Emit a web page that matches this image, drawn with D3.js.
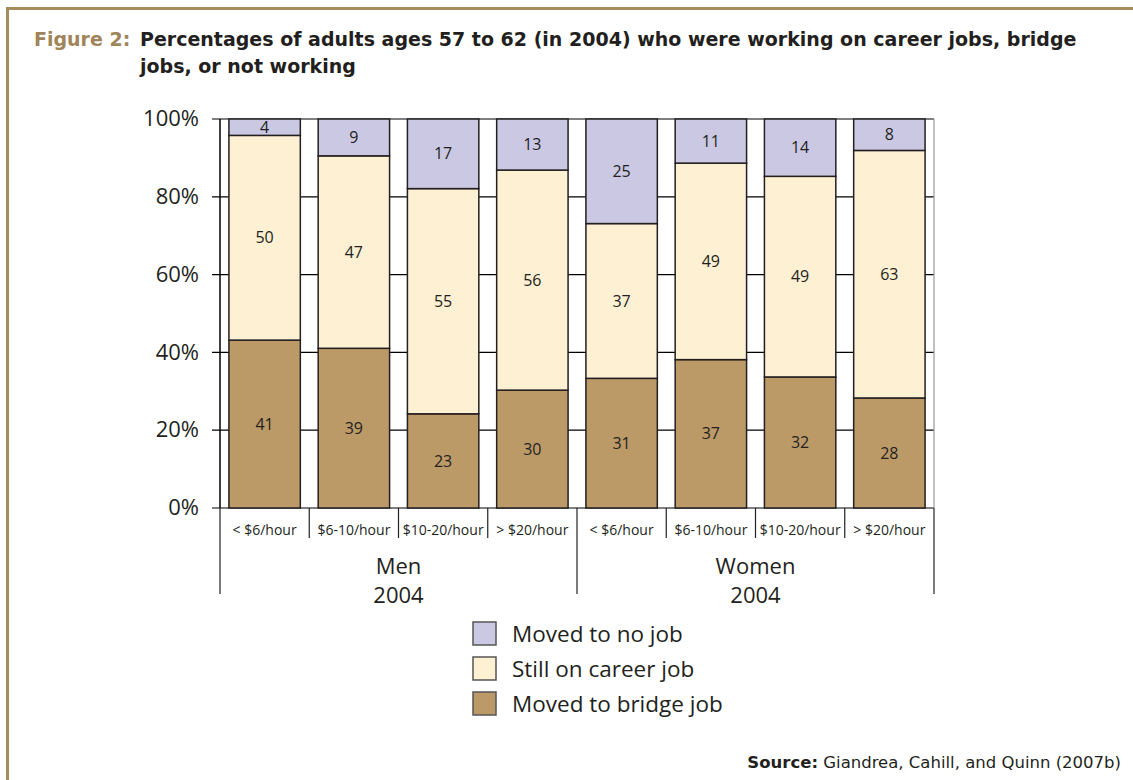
<!DOCTYPE html>
<html>
<head>
<meta charset="utf-8">
<script src="https://cdn.jsdelivr.net/npm/d3@7"></script>
<style>
  body { margin: 0; background: #fff; }
  svg { display: block; }
</style>
</head>
<body>
<div id="chart"></div>
<script>
// Categories and series values (as printed on the bars)
const groups = ['Men', 'Women'];
const groupYear = '2004';
const wages = ['< $6/hour', '$6-10/hour', '$10-20/hour', '> $20/hour'];
const bridgeJob = [41, 39, 23, 30, 31, 37, 32, 28];
const careerJob = [50, 47, 55, 56, 37, 49, 49, 63];
const noJob = [4, 9, 17, 13, 25, 11, 14, 8];
const yTicks = [0, 20, 40, 60, 80, 100];
const seriesNames = ['Moved to bridge job', 'Still on career job', 'Moved to no job'];
const seriesColors = ['#bc9a68', '#fef0d3', '#cbc8e4'];

const W = 1133, H = 780;
const margin = {top: 119, left: 220, right: 199, bottom: 272};
const width = W - margin.left - margin.right,
      height = H - margin.top - margin.bottom;
const font = "'Open Sans', 'Noto Sans', sans-serif";
const border = '#a68b5c';

const svg = d3.select('#chart').append('svg')
  .attr('width', W).attr('height', H);

// frame
svg.append('line').attr('x1', 7).attr('x2', W).attr('y1', 8.5).attr('y2', 8.5)
  .attr('stroke', border).attr('stroke-width', 3);
svg.append('line').attr('x1', 7.5).attr('x2', 7.5).attr('y1', 7).attr('y2', H)
  .attr('stroke', border).attr('stroke-width', 3);

// title
const title = svg.append('text').attr('x', 34).attr('y', 46)
  .style('font-family', "'DejaVu Sans', sans-serif").style('font-weight', 'bold')
  .style('font-size', '19px').attr('fill', '#231f20');
title.append('tspan').attr('fill', '#a0845a').text('Figure 2:');
title.append('tspan').attr('x', 140)
  .text('Percentages of adults ages 57 to 62 (in 2004) who were working on career jobs, bridge');
svg.append('text').attr('x', 140).attr('y', 73)
  .style('font-family', "'DejaVu Sans', sans-serif").style('font-weight', 'bold')
  .style('font-size', '19px').attr('fill', '#231f20')
  .text('jobs, or not working');

// data table
const labels = [];
groups.forEach(g => wages.forEach(w => labels.push(g + '|' + w)));
const stackData = labels.map((k, i) => {
  const total = bridgeJob[i] + careerJob[i] + noJob[i];
  return {key: k, s0: bridgeJob[i] / total * 100, s1: careerJob[i] / total * 100,
    s2: noJob[i] / total * 100, raw: [bridgeJob[i], careerJob[i], noJob[i]]};
});
const stack = d3.stack().keys(['s0', 's1', 's2'])(stackData);

const g = svg.append('g').attr('transform', `translate(${margin.left},${margin.top})`);

const x = d3.scaleBand().domain(labels).range([0, width]).paddingInner(0.2).paddingOuter(0.1);
const y = d3.scaleLinear().domain([0, 100]).range([height, 0]);

// gridlines
g.append('g').selectAll('line').data(yTicks).enter().append('line')
  .attr('x1', -8).attr('x2', width)
  .attr('y1', d => y(d)).attr('y2', d => y(d))
  .attr('stroke', '#000').attr('stroke-width', 1.2);
g.append('line').attr('x1', width).attr('x2', width).attr('y1', 0).attr('y2', height)
  .attr('stroke', '#999').attr('stroke-width', 1.2);
g.append('line').attr('x1', 0).attr('x2', 0).attr('y1', 0).attr('y2', height)
  .attr('stroke', '#000').attr('stroke-width', 1.5);

// y axis labels
const yAxis = g.append('g').attr('transform', 'translate(-18,0)')
  .call(d3.axisLeft(y).tickValues(yTicks).tickSize(0).tickFormat(d => d + '%'));
yAxis.select('.domain').remove();
yAxis.selectAll('text').style('font-family', font).style('font-size', '22px')
  .attr('fill', '#231f20').attr('dx', 0).attr('dy', '0.3em');

// bars
stack.forEach((layer, li) => {
  const lg = g.append('g');
  lg.selectAll('rect').data(layer).enter().append('rect')
    .attr('x', d => x(d.data.key))
    .attr('width', x.bandwidth())
    .attr('y', d => y(d[1]))
    .attr('height', d => y(d[0]) - y(d[1]))
    .attr('fill', seriesColors[li])
    .attr('stroke', '#231f20').attr('stroke-width', 1.5);
  lg.selectAll('text').data(layer).enter().append('text')
    .attr('x', d => x(d.data.key) + x.bandwidth() / 2)
    .attr('y', d => (y(d[0]) + y(d[1])) / 2)
    .attr('dy', '0.35em')
    .attr('text-anchor', 'middle')
    .style('font-family', font).style('font-size', '16px').attr('fill', '#231f20')
    .text(d => d.data.raw[li]);
});

// category axis
const cat = g.append('g').attr('transform', `translate(0,${height})`);
labels.forEach((k, i) => {
  const cx = i * (width / labels.length);
  const isGroupEdge = i % wages.length === 0;
  cat.append('line').attr('x1', cx).attr('x2', cx).attr('y1', 0)
    .attr('y2', isGroupEdge ? 86 : 30).attr('stroke', '#231f20').attr('stroke-width', 1.2);
  cat.append('text').attr('x', x(k) + x.bandwidth() / 2).attr('y', 27)
    .attr('text-anchor', 'middle').style('font-family', font).style('font-size', '14px')
    .attr('fill', '#231f20').text(k.split('|')[1]);
});
cat.append('line').attr('x1', width).attr('x2', width).attr('y1', 0).attr('y2', 86)
  .attr('stroke', '#231f20').attr('stroke-width', 1.2);
groups.forEach((grp, gi) => {
  const cx = (gi + 0.5) * width / groups.length;
  cat.append('text').attr('x', cx).attr('y', 66).attr('text-anchor', 'middle')
    .style('font-family', font).style('font-size', '22px').attr('fill', '#231f20').text(grp);
  cat.append('text').attr('x', cx).attr('y', 95).attr('text-anchor', 'middle')
    .style('font-family', font).style('font-size', '22px').attr('fill', '#231f20').text(groupYear);
});

// legend
const legendOrder = [2, 1, 0];
const lgd = svg.append('g').attr('transform', 'translate(473,622)');
legendOrder.forEach((si, i) => {
  lgd.append('rect').attr('x', 0).attr('y', i * 35).attr('width', 23).attr('height', 23)
    .attr('fill', seriesColors[si]).attr('stroke', '#555').attr('stroke-width', 1.5);
  lgd.append('text').attr('x', 39).attr('y', i * 35 + 12).attr('dy', '0.35em')
    .style('font-family', font).style('font-size', '22.5px').attr('fill', '#231f20')
    .text(seriesNames[si]);
});

// source
const src = svg.append('text').attr('x', 1121).attr('y', 768).attr('text-anchor', 'end')
  .style('font-family', "'DejaVu Sans', sans-serif").style('font-size', '16.5px').attr('fill', '#231f20');
src.append('tspan').style('font-weight', 'bold').text('Source:');
src.append('tspan').text(' Giandrea, Cahill, and Quinn (2007b)');
</script>
</body>
</html>
